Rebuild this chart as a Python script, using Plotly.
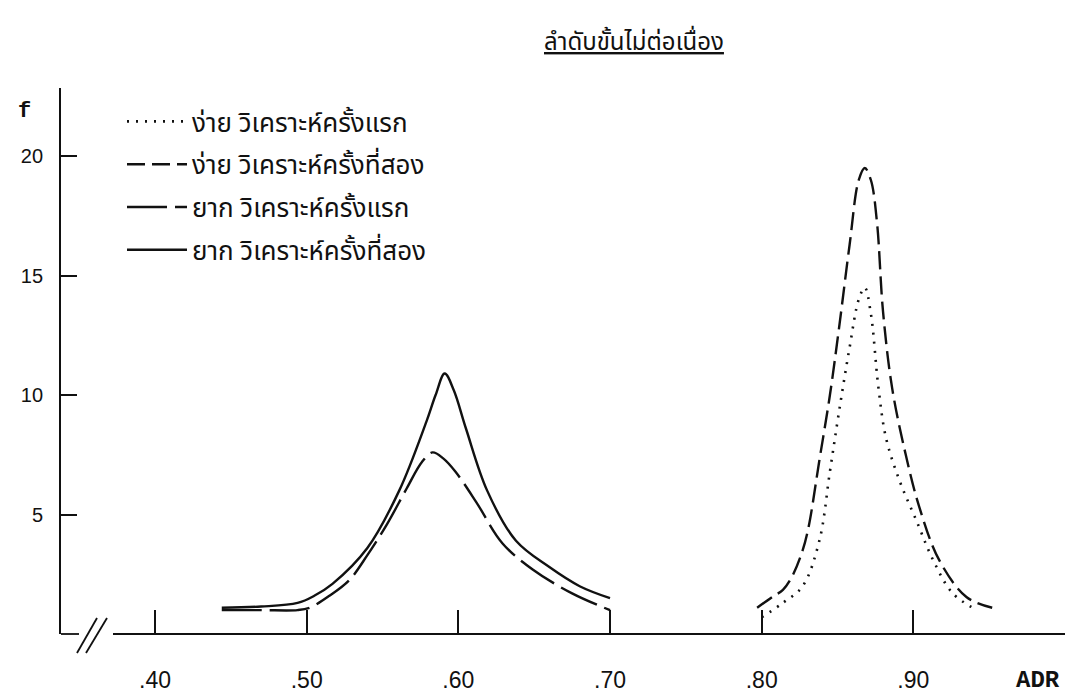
import plotly.graph_objects as go

# ---- data ----
adr_easy_first = [0.800, 0.814, 0.827, 0.838, 0.845, 0.851, 0.858, 0.864, 0.868, 0.872, 0.877, 0.882, 0.891, 0.902, 0.913, 0.926, 0.942]
f_easy_first = [0.7, 1.3, 2.0, 3.9, 6.8, 9.3, 12.0, 14.0, 14.5, 13.4, 10.3, 8.2, 6.4, 4.75, 3.1, 1.7, 1.0]

adr_easy_second = [0.797, 0.807, 0.814, 0.820, 0.827, 0.831, 0.838, 0.845, 0.851, 0.858, 0.864, 0.868, 0.872, 0.876, 0.880, 0.886, 0.895, 0.904, 0.917, 0.935, 0.952]
f_easy_second = [1.1, 1.55, 1.85, 2.4, 3.5, 4.5, 7.25, 10.0, 12.8, 16.3, 19.0, 19.5, 19.0, 17.25, 13.5, 10.3, 7.5, 5.3, 3.1, 1.55, 1.1]

adr_hard_first = [0.444, 0.470, 0.494, 0.502, 0.515, 0.528, 0.540, 0.553, 0.566, 0.576, 0.583, 0.590, 0.598, 0.612, 0.629, 0.649, 0.675, 0.700]
f_hard_first = [1.0, 1.0, 1.0, 1.1, 1.6, 2.25, 3.3, 4.6, 6.1, 7.2, 7.6, 7.35, 6.8, 5.5, 3.8, 2.7, 1.7, 1.0]

adr_hard_second = [0.444, 0.470, 0.494, 0.505, 0.517, 0.540, 0.561, 0.579, 0.585, 0.591, 0.597, 0.605, 0.619, 0.638, 0.660, 0.680, 0.700]
f_hard_second = [1.1, 1.15, 1.3, 1.6, 2.1, 3.6, 6.0, 8.9, 10.0, 10.9, 10.2, 8.6, 6.0, 3.9, 2.8, 2.0, 1.5]

x_tick_vals = [0.40, 0.50, 0.60, 0.70, 0.80, 0.90]
x_tick_text = [".40", ".50", ".60", ".70", ".80", ".90"]
y_tick_vals = [5, 10, 15, 20]
y_tick_text = ["5", "10", "15", "20"]

names = [
    "ง่าย วิเคราะห์ครั้งแรก",
    "ง่าย วิเคราะห์ครั้งที่สอง",
    "ยาก วิเคราะห์ครั้งแรก",
    "ยาก วิเคราะห์ครั้งที่สอง",
]
title_text = "ลำดับขั้นไม่ต่อเนื่อง"

# ---- layout geometry (pixels) ----
W, H = 1065, 698
L, R, T, B = 61, 0, 88, 64
pw, ph = W - L - R, H - T - B

def px(xp):
    return (xp - L) / pw

def py(yp):
    return (H - B - yp) / ph

INK = "#111111"
THAI = "Noto Sans Thai, Loma, Garuda, Norasi, DejaVu Sans, sans-serif"
MONO = "Liberation Mono, Courier New, monospace"

fig = go.Figure()
series = [
    (adr_easy_first, f_easy_first, "2px,7px", 2.6),
    (adr_easy_second, f_easy_second, "18px,7px", 2.4),
    (adr_hard_first, f_hard_first, "40px,8px", 2.4),
    (adr_hard_second, f_hard_second, "solid", 2.4),
]
for i, (xs, ys, dash, w) in enumerate(series):
    fig.add_trace(go.Scatter(
        x=xs, y=ys, mode="lines", name=names[i], legendgroup="g%d" % i,
        line=dict(color=INK, width=w, dash=dash, shape="spline", smoothing=1.0),
    ))

shapes = [
    # x axis line with break
    dict(type="line", xref="paper", yref="paper", x0=px(61), x1=px(79), y0=0, y1=0,
         line=dict(color=INK, width=1.8)),
    dict(type="line", xref="paper", yref="paper", x0=px(113), x1=px(1065), y0=0, y1=0,
         line=dict(color=INK, width=1.8)),
    dict(type="line", xref="paper", yref="paper", x0=px(77), x1=px(97), y0=py(653), y1=py(618),
         line=dict(color=INK, width=1.8)),
    dict(type="line", xref="paper", yref="paper", x0=px(86), x1=px(107), y0=py(653), y1=py(618),
         line=dict(color=INK, width=1.8)),
]

annotations = [
    dict(text="<u>" + title_text + "</u>", x=px(634), y=py(43), xref="paper", yref="paper",
         showarrow=False, font=dict(family=THAI, size=24, color=INK), xanchor="center", yanchor="middle"),
    dict(text="<b>f</b>", x=px(24), y=py(112), xref="paper", yref="paper", showarrow=False,
         font=dict(family=MONO, size=22, color=INK), xanchor="center", yanchor="middle"),
    dict(text="<b>ADR</b>", x=px(1038), y=py(680), xref="paper", yref="paper", showarrow=False,
         font=dict(family=MONO, size=24, color=INK), xanchor="center", yanchor="middle"),
]

fig.update_layout(
    width=W, height=H,
    margin=dict(l=L, r=R, t=T, b=B),
    paper_bgcolor="white", plot_bgcolor="white",
    showlegend=True,
    legend=dict(x=px(122), y=py(98), xanchor="left", yanchor="top",
                font=dict(family=THAI, size=26, color=INK),
                bgcolor="rgba(0,0,0,0)", borderwidth=0,
                tracegroupgap=6, itemwidth=60, traceorder="grouped"),
    shapes=shapes,
    annotations=annotations,
    xaxis=dict(range=[0.338, 1.0], showgrid=False, zeroline=False, showline=False,
               tickmode="array", tickvals=x_tick_vals, ticktext=x_tick_text,
               ticks="inside", ticklen=24, tickwidth=1.6, tickcolor=INK,
               ticklabelstandoff=30,
               tickfont=dict(family="Liberation Sans Narrow, Liberation Sans, sans-serif", size=23, color=INK)),
    yaxis=dict(range=[0, 22.85], showgrid=False, zeroline=False, showline=True,
               linecolor=INK, linewidth=1.8,
               tickmode="array", tickvals=y_tick_vals, ticktext=y_tick_text,
               ticks="inside", ticklen=16, tickwidth=1.6, tickcolor=INK,
               ticklabelstandoff=12,
               tickfont=dict(family="Liberation Sans, sans-serif", size=20, color=INK)),
)

fig.write_html("out.html")
